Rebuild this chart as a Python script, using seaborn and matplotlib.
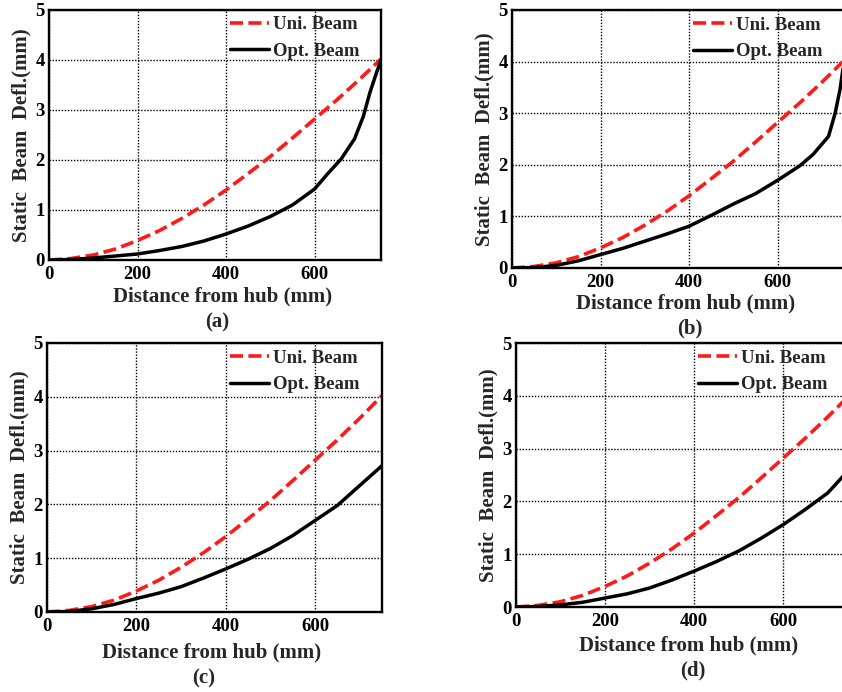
import pandas as pd
import seaborn as sns
import matplotlib.pyplot as plt

# distance from hub (mm) and static deflection (mm)
x_uni = [0, 50, 100, 150, 200, 250, 300, 350, 400, 450, 500, 550, 600, 650, 700, 750]
uni_beam = [0, 0.03, 0.10, 0.22, 0.39, 0.59, 0.83, 1.10, 1.40, 1.73, 2.07, 2.44, 2.82, 3.20, 3.60, 4.02]

x_opt_a = [0, 50, 100, 150, 200, 250, 300, 350, 400, 450, 500, 550, 600, 630, 660, 690, 710, 725, 740, 750]
opt_a = [0, 0.01, 0.04, 0.08, 0.12, 0.19, 0.27, 0.38, 0.52, 0.68, 0.87, 1.10, 1.42, 1.73, 2.02, 2.42, 2.87, 3.35, 3.75, 4.0]

x_opt_b = [0, 50, 100, 150, 200, 250, 300, 350, 400, 450, 500, 550, 600, 650, 680, 715, 730, 741, 750]
opt_b = [0, 0.01, 0.05, 0.14, 0.26, 0.38, 0.52, 0.66, 0.81, 1.02, 1.24, 1.44, 1.70, 1.98, 2.2, 2.55, 3.0, 3.46, 4.0]

x_opt_c = [0, 50, 100, 150, 200, 250, 300, 350, 400, 450, 500, 550, 600, 650, 700, 750]
opt_c = [0, 0.01, 0.06, 0.14, 0.25, 0.35, 0.47, 0.63, 0.80, 0.98, 1.18, 1.42, 1.70, 1.98, 2.35, 2.72]

x_opt_d = [0, 50, 100, 150, 200, 250, 300, 350, 400, 450, 500, 550, 600, 650, 700, 750]
opt_d = [0, 0.01, 0.04, 0.09, 0.17, 0.25, 0.36, 0.51, 0.68, 0.86, 1.06, 1.30, 1.56, 1.85, 2.16, 2.62]

captions = ['(a)', '(b)', '(c)', '(d)']
x_ticks = [0, 200, 400, 600]
y_ticks = [0, 1, 2, 3, 4, 5]

sns.set_style('white')
plt.rcParams['font.family'] = ['Liberation Serif', 'DejaVu Serif']
plt.rcParams['font.weight'] = 'bold'
plt.rcParams['axes.labelweight'] = 'bold'

W, H = 842, 692
fig = plt.figure(figsize=(W / 100, H / 100), dpi=100)

# axes boxes in pixels: left, top, right, bottom
boxes = [(49, 10, 381, 260), (512, 10, 844, 268), (47, 343, 382, 612), (516, 343, 850, 607)]
opt_x = [x_opt_a, x_opt_b, x_opt_c, x_opt_d]
opt_y = [opt_a, opt_b, opt_c, opt_d]
# pixel positions: x label (x, y) and caption (x, y)
label_pos = [(223, 296), (686, 303), (212, 652), (689, 645)]
caption_pos = [(217, 322), (690, 328), (204, 678), (693, 670)]

for i, (l, t, r, b) in enumerate(boxes):
    ax = fig.add_axes([l / W, 1 - b / H, (r - l) / W, (b - t) / H])
    sns.lineplot(x=x_uni, y=uni_beam, ax=ax, color='#ff1a1a', lw=2.6,
                 linestyle=(0, (3.6, 1.5)), label='Uni. Beam')
    sns.lineplot(x=opt_x[i], y=opt_y[i], ax=ax, color='black', lw=2.5,
                 label='Opt. Beam')
    ax.set_xlim(0, 750)
    ax.set_ylim(0, 5)
    ax.set_xticks(x_ticks)
    ax.set_yticks(y_ticks)
    ax.grid(True, color='black', linestyle=(0, (1, 1.2)), linewidth=1.0)
    for s in ax.spines.values():
        s.set_linewidth(1.7)
        s.set_color('black')
    ax.tick_params(direction='in', length=4, width=1, labelsize=13.5, colors='black')
    ax.tick_params(axis='x', pad=4)
    ax.tick_params(axis='y', pad=3)
    ax.set_ylabel('Static  Beam  Defl.(mm)', fontsize=15, labelpad=3)
    ax.legend(loc='upper left', bbox_to_anchor=(0.545, 0.975), frameon=False,
              fontsize=13.5, borderpad=0, borderaxespad=0, handlelength=2.1,
              handletextpad=0.2, labelspacing=0.5)

    lx, ly = label_pos[i]
    cx, cy = caption_pos[i]
    fig.text(lx / W, 1 - ly / H, 'Distance from hub (mm)', ha='center', va='center',
             fontsize=15, fontweight='bold')
    fig.text(cx / W, 1 - cy / H, captions[i], ha='center', va='center',
             fontsize=15, fontweight='bold')

fig.savefig('out.png', dpi=100)
